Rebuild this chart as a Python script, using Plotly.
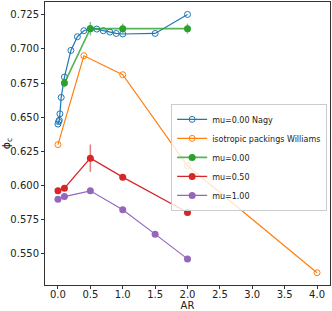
import plotly.graph_objects as go

# Data
nagy_ar = [0.0, 0.01, 0.02, 0.03, 0.05, 0.1, 0.2, 0.3, 0.4, 0.5, 0.6, 0.7, 0.8, 0.9, 1.0, 1.5, 2.0]
nagy_phi = [0.6450, 0.6468, 0.6478, 0.6525, 0.6645, 0.6794, 0.6989, 0.7089, 0.7133, 0.7148,
            0.7145, 0.7133, 0.7123, 0.7113, 0.7109, 0.7113, 0.7252]

williams_ar = [0.0, 0.4, 1.0, 2.0, 4.0]
williams_phi = [0.6300, 0.6950, 0.6811, 0.6145, 0.5363]

mu0_ar = [0.1, 0.5, 1.0, 2.0]
mu0_phi = [0.6750, 0.7148, 0.7148, 0.7148]
mu0_err = [0.0030, 0.0049, 0.0037, 0.0037]

mu05_ar = [0.0, 0.1, 0.5, 1.0, 2.0]
mu05_phi = [0.5962, 0.5981, 0.6201, 0.6062, 0.5803]
mu05_err = [0.0, 0.0, 0.0100, 0.0, 0.0]

mu1_ar = [0.0, 0.1, 0.5, 1.0, 1.5, 2.0]
mu1_phi = [0.5901, 0.5920, 0.5962, 0.5823, 0.5645, 0.5464]

x_ticks = [0.0, 0.5, 1.0, 1.5, 2.0, 2.5, 3.0, 3.5, 4.0]
y_ticks = [0.550, 0.575, 0.600, 0.625, 0.650, 0.675, 0.700, 0.725]

C_BLUE = "#1f77b4"
C_ORANGE = "#ff7f0e"
C_GREEN = "#2ca02c"
C_RED = "#d62728"
C_PURPLE = "#9467bd"

fig = go.Figure()

fig.add_trace(go.Scatter(
    x=nagy_ar, y=nagy_phi, mode="lines+markers", name="mu=0.00 Nagy",
    line=dict(color=C_BLUE, width=1.2),
    marker=dict(symbol="circle-open", size=6, color=C_BLUE, line=dict(width=1))))

fig.add_trace(go.Scatter(
    x=williams_ar, y=williams_phi, mode="lines+markers", name="isotropic packings Williams",
    line=dict(color=C_ORANGE, width=1.2),
    marker=dict(symbol="circle-open", size=6, color=C_ORANGE, line=dict(width=1))))

fig.add_trace(go.Scatter(
    x=mu0_ar, y=mu0_phi, mode="lines+markers", name="mu=0.00",
    line=dict(color="rgba(44,160,44,0.8)", width=1.6),
    marker=dict(symbol="circle", size=7, color=C_GREEN),
    error_y=dict(type="data", array=mu0_err, color="rgba(44,160,44,0.6)", thickness=1.5, width=0)))

fig.add_trace(go.Scatter(
    x=mu05_ar, y=mu05_phi, mode="lines+markers", name="mu=0.50",
    line=dict(color=C_RED, width=1.2),
    marker=dict(symbol="circle", size=7, color=C_RED),
    error_y=dict(type="data", array=mu05_err, color="rgba(214,39,40,0.6)", thickness=1.5, width=0)))

fig.add_trace(go.Scatter(
    x=mu1_ar, y=mu1_phi, mode="lines+markers", name="mu=1.00",
    line=dict(color=C_PURPLE, width=1.2),
    marker=dict(symbol="circle", size=7, color=C_PURPLE)))

axis_common = dict(
    showline=True, linecolor="#333333", linewidth=1, mirror=True,
    ticks="outside", ticklen=3, tickcolor="#333333", tickwidth=1,
    showgrid=False, zeroline=False, automargin=True,
    tickfont=dict(family="DejaVu Sans", size=10, color="#222222"),
)

fig.update_xaxes(range=[-0.2, 4.2], tickvals=x_ticks,
                 ticktext=[f"{v:.1f}" for v in x_ticks],
                 ticklabelstandoff=-3,
                 title=dict(text="AR", font=dict(family="DejaVu Sans", size=10, color="#222222"), standoff=3),
                 **axis_common)
fig.update_yaxes(range=[0.5273, 0.7343], tickvals=y_ticks,
                 ticktext=[f"{v:.3f}" for v in y_ticks],
                 title=dict(text="ϕ<sub>c</sub>", font=dict(family="DejaVu Sans", size=11, color="#222222"), standoff=4),
                 **axis_common)

fig.update_layout(
    width=332, height=311,
    margin=dict(l=45, r=2, t=2, b=26, autoexpand=False),
    paper_bgcolor="white", plot_bgcolor="white",
    showlegend=True,
    legend=dict(x=0.99, y=0.64, xanchor="right", yanchor="top",
                bgcolor="rgba(255,255,255,0.8)", bordercolor="#cccccc", borderwidth=1,
                font=dict(family="DejaVu Sans", size=8, color="#222222"),
                tracegroupgap=0, itemwidth=30),
    font=dict(family="DejaVu Sans"),
)

fig.write_html("out.html", config={"displayModeBar": False},
               post_script="document.body.style.margin='0';document.body.style.padding='0';")
